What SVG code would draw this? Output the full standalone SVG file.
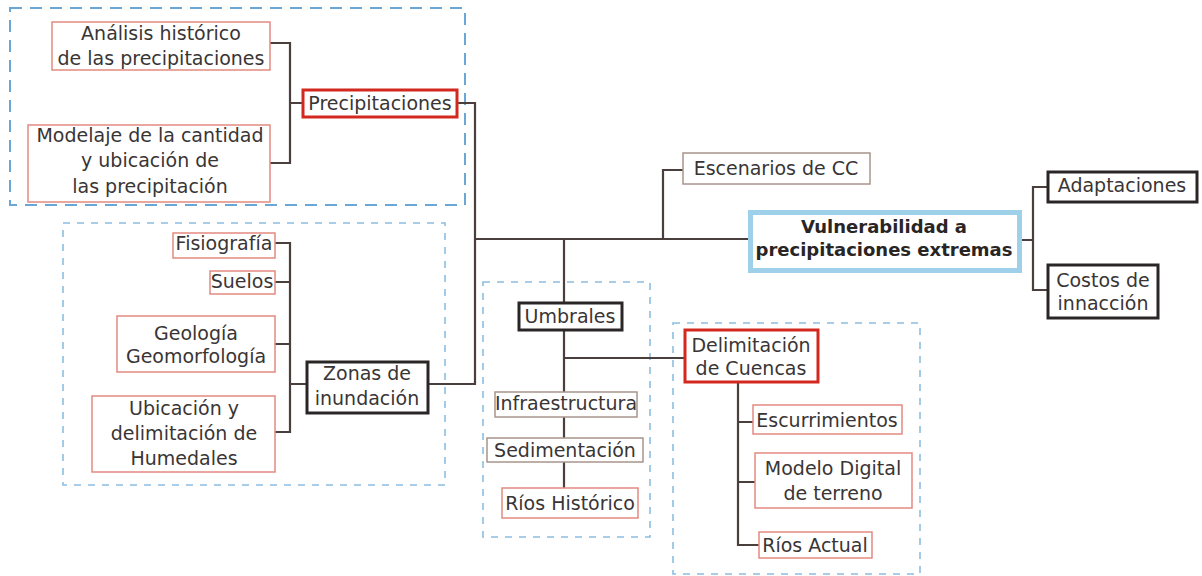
<svg xmlns="http://www.w3.org/2000/svg" width="1202" height="576" viewBox="0 0 1202 576">
<style>
.t{font-family:"DejaVu Sans",sans-serif;font-size:19px;fill:#3a3535;text-anchor:middle}
.tb{font-family:"DejaVu Sans",sans-serif;font-size:18px;font-weight:bold;fill:#2a2525;text-anchor:middle}
.red{fill:#fff;stroke:#e38a80;stroke-width:1.5}
.redb{fill:#fff;stroke:#d3281e;stroke-width:3}
.blk{fill:#fff;stroke:#2b2626;stroke-width:3}
.gry{fill:#fff;stroke:#a8958c;stroke-width:1.5}
.blue{fill:#fff;stroke:#9fd0ea;stroke-width:5}
.g1{fill:none;stroke:#6aa6d6;stroke-width:2;stroke-dasharray:12 8}
.g2{fill:none;stroke:#8dbde0;stroke-width:1.6;stroke-dasharray:7 7}
.c{fill:none;stroke:#4a3f3c;stroke-width:2.2}
</style>
<rect width="1202" height="576" fill="#fff"/>
<g id="groups">
<rect class="g1" x="10" y="8" width="455" height="197"/>
<rect class="g2" x="63" y="223" width="382" height="262"/>
<rect class="g2" x="483" y="282" width="167" height="255"/>
<rect class="g2" x="673" y="323" width="247" height="251"/>
</g>
<g id="connectors">
<path class="c" d="M270 43H290V163H270M290 103H303"/>
<path class="c" d="M457 103H475V384H428"/>
<path class="c" d="M475 239H748"/>
<path class="c" d="M663 239V170H683"/>
<path class="c" d="M564 239V303M564 330V488M564 358H685"/>
<path class="c" d="M738 382V545H759M738 422H753M738 482H755"/>
<path class="c" d="M275 243H290V432H275M275 282H290M275 344H290M290 384H307"/>
<path class="c" d="M1022 240H1033M1048 187H1033V290H1048"/>
</g>
<g id="analisis"><rect class="red" x="52" y="22" width="218" height="48"/><text class="t" x="161" y="40">Análisis histórico</text><text class="t" x="161" y="65">de las precipitaciones</text></g>
<g id="modelaje"><rect class="red" x="28" y="125" width="242" height="77"/><text class="t" x="150" y="142">Modelaje de la cantidad</text><text class="t" x="150" y="167">y ubicación de</text><text class="t" x="150" y="193">las precipitación</text></g>
<g id="precipitaciones"><rect class="redb" x="303" y="90" width="154" height="27"/><text class="t" x="380" y="110">Precipitaciones</text></g>
<g id="fisiografia"><rect class="red" x="173" y="233" width="102" height="25"/><text class="t" x="224" y="250">Fisiografía</text></g>
<g id="suelos"><rect class="red" x="210" y="271" width="65" height="23"/><text class="t" x="242" y="288">Suelos</text></g>
<g id="geologia"><rect class="red" x="117" y="316" width="158" height="56"/><text class="t" x="196" y="340">Geología</text><text class="t" x="196" y="363">Geomorfología</text></g>
<g id="ubicacion"><rect class="red" x="92" y="396" width="183" height="76"/><text class="t" x="184" y="415">Ubicación y</text><text class="t" x="184" y="440">delimitación de</text><text class="t" x="184" y="465">Humedales</text></g>
<g id="zonas"><rect class="blk" x="307" y="362" width="121" height="51"/><text class="t" x="367" y="380">Zonas de</text><text class="t" x="367" y="405">inundación</text></g>
<g id="escenarios"><rect class="gry" x="683" y="153" width="187" height="31"/><text class="t" x="776" y="175">Escenarios de CC</text></g>
<g id="vulnerabilidad"><rect class="blue" x="750.5" y="212.5" width="269" height="58"/><text class="tb" x="884" y="233">Vulnerabilidad a</text><text class="tb" x="884" y="256">precipitaciones extremas</text></g>
<g id="adaptaciones"><rect class="blk" x="1048" y="172" width="149" height="30"/><text class="t" x="1122" y="192">Adaptaciones</text></g>
<g id="costos"><rect class="blk" x="1048" y="265" width="110" height="53"/><text class="t" x="1103" y="287">Costos de</text><text class="t" x="1103" y="310">innacción</text></g>
<g id="umbrales"><rect class="blk" x="519" y="303" width="103" height="27"/><text class="t" x="570" y="323">Umbrales</text></g>
<g id="infraestructura"><rect class="gry" x="495" y="392" width="142" height="25"/><text class="t" x="566" y="410">Infraestructura</text></g>
<g id="sedimentacion"><rect class="gry" x="487" y="438" width="156" height="24"/><text class="t" x="565" y="457">Sedimentación</text></g>
<g id="rios-historico"><rect class="red" x="502" y="488" width="136" height="30"/><text class="t" x="570" y="510">Ríos Histórico</text></g>
<g id="delimitacion"><rect class="redb" x="685" y="330" width="133" height="52"/><text class="t" x="751" y="352">Delimitación</text><text class="t" x="751" y="375">de Cuencas</text></g>
<g id="escurrimientos"><rect class="red" x="753" y="405" width="149" height="29"/><text class="t" x="827" y="427">Escurrimientos</text></g>
<g id="modelo-digital"><rect class="red" x="755" y="453" width="157" height="55"/><text class="t" x="833" y="475">Modelo Digital</text><text class="t" x="833" y="500">de terreno</text></g>
<g id="rios-actual"><rect class="red" x="759" y="532" width="113" height="26"/><text class="t" x="815" y="552">Ríos Actual</text></g>
</svg>
